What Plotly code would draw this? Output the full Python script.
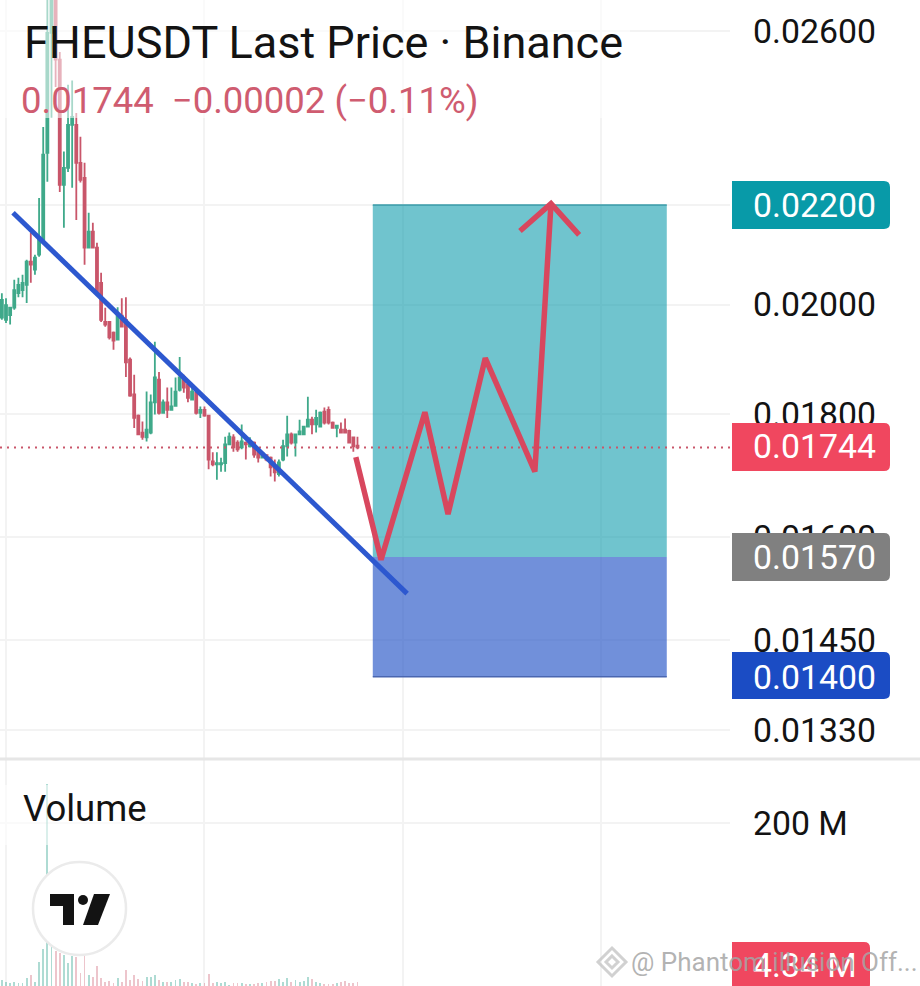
#!/bin/python
import numpy as np
import plotly.graph_objects as go

W = 920
H = 986

# candles, prices in 1/100000 USDT
bars = list(range(-1, 86))
opens = [1975,1971,1980,1994,2022,2028,2038,2084,2068,2098,2128,2313,2595,2700,2529,2243,2280,2376,2376,2291,2258,2112,2145,2112,2042,1967,1967,1947,1934,1979,1971,1897,1835,1798,1769,1761,1769,1821,1861,1803,1821,1808,1815,1843,1866,1852,1826,1838,1803,1808,1798,1721,1716,1716,1718,1749,1761,1752,1744,1752,1746,1752,1736,1727,1731,1727,1713,1700,1724,1746,1766,1752,1766,1766,1779,1791,1783,1779,1805,1808,1786,1777,1774,1774,1772,1761,1747]
highs = [2022,2012,1995,2048,2052,2058,2088,2143,2098,2215,2371,2750,2780,2780,2548,2316,2469,2479,2403,2349,2291,2184,2163,2122,2062,1994,1967,1949,1995,2012,2014,1901,1870,1800,1788,1840,1835,1930,1875,1826,1847,1847,1865,1902,1870,1858,1849,1840,1814,1814,1798,1736,1736,1727,1762,1769,1766,1756,1783,1754,1761,1754,1741,1736,1732,1729,1724,1724,1757,1798,1769,1766,1791,1779,1831,1796,1808,1805,1812,1814,1788,1781,1786,1793,1774,1762,1762]
lows = [1971,1965,1962,1990,2014,2014,2003,2042,2058,2094,2128,2250,2392,2464,2228,2153,2271,2237,2169,2248,2078,2112,2112,2018,1967,1958,1934,1915,1934,1958,1866,1831,1777,1766,1757,1754,1766,1800,1800,1803,1794,1808,1814,1840,1838,1821,1826,1800,1794,1796,1708,1713,1691,1704,1704,1749,1737,1737,1741,1724,1744,1727,1719,1727,1721,1696,1688,1696,1721,1729,1749,1729,1766,1766,1779,1766,1769,1779,1783,1783,1777,1761,1769,1769,1751,1737,1741]
closes = [2009,1999,1994,2028,2038,2042,2084,2078,2092,2128,2309,2595,2700,2529,2243,2280,2376,2394,2291,2254,2112,2145,2112,2022,1971,1962,1938,1932,1979,1958,1892,1833,1794,1766,1762,1774,1821,1865,1803,1821,1808,1814,1840,1865,1847,1829,1840,1803,1808,1798,1724,1716,1718,1718,1749,1762,1744,1741,1754,1749,1754,1732,1727,1734,1724,1711,1703,1719,1746,1766,1752,1766,1771,1779,1791,1783,1794,1803,1786,1786,1777,1781,1769,1769,1752,1746,1744]
volumes = [7.4,5.3,3.3,5.3,4.1,3.3,9.4,13.5,5.3,29.9,45,248,48,43,40,38,28,37,36,16,37,13.5,10.6,24,10,5.3,6.1,3.3,9.4,5.3,20,7.4,13.5,8.2,6.1,11.5,11.5,13.5,7.4,5.3,5.3,5.3,7.4,8.2,5.3,5.3,3.3,2.5,3.3,3.3,14.7,3.3,5.3,3.3,5.3,1.2,3.3,3.3,3.3,2.5,2.5,2.5,3.3,3.3,5.3,6.5,6.5,8.2,5.3,9.4,5.3,7.4,5.3,6.1,10.6,8.2,5.3,3.3,2.5,2.5,2.5,3.3,5.3,6.1,4.1,3.3,4.34]

# drawings on the chart, x in bars, y in USDT
trend_x = [1.7, 97.0]
trend_y = [0.02184, 0.01516]
path_x = [84.6, 90.7, 101.3, 106.9, 115.9, 127.9, 131.8]
path_y = [0.01728, 0.01566, 0.01804, 0.01636, 0.01900, 0.01704, 0.02203]
head_x = [124.3, 131.8, 138.6]
head_y = [0.02146, 0.02203, 0.02138]
pos_x = [88.7, 159.8]
target_price = 0.022
entry_price = 0.0157
stop_price = 0.014
last_price = 0.01744

price_ticks = [0.026, 0.022, 0.020, 0.018, 0.016, 0.0145, 0.0133]
price_labels = ["0.02600", "0.02200", "0.02000", "0.01800", "0.01600", "0.01450", "0.01330"]
time_ticks = [0, 48, 96, 144]
volume_ticks = [200]
volume_labels = ["200 M"]
badge_texts = ["0.02200", "0.01744", "0.01570", "0.01400", "4.34 M"]
badge_colors = ["#089AA8", "#F0475F", "#808080", "#1B4CC4", "#F0475F"]

GREEN = "#3FA98A"
RED = "#C9566A"
GRID = "#F3F3F3"
FONT = "Roboto"

def px(x):
    return x / W

def py(y):
    return 1 - y / H

# pixel position helper, only for the chrome around the plot (badges, logo)
def poly(points, fill, opacity=1):
    d = "M " + " L ".join("%.5f,%.5f" % (px(a), py(b)) for a, b in points) + " Z"
    return dict(type="path", path=d, xref="paper", yref="paper", fillcolor=fill,
                line=dict(width=0), layer="above", opacity=opacity)

def badge(y0, y1, color, x1=890):
    r = 6
    a, b = py(y0), py(y1)
    d = "M %.5f,%.5f L %.5f,%.5f Q %.5f,%.5f %.5f,%.5f L %.5f,%.5f Q %.5f,%.5f %.5f,%.5f L %.5f,%.5f Z" % (
        px(732), a, px(x1 - r), a, px(x1), a, px(x1), py(y0 + r), px(x1), py(y1 - r),
        px(x1), b, px(x1 - r), b, px(732), b)
    return dict(type="path", path=d, xref="paper", yref="paper", fillcolor=color,
                line=dict(width=0), layer="above")

fig = go.Figure()

scale = np.array(1e-5)
fig.add_trace(go.Candlestick(
    x=bars, open=np.array(opens) * scale, high=np.array(highs) * scale,
    low=np.array(lows) * scale, close=np.array(closes) * scale,
    increasing=dict(line=dict(color=GREEN, width=1.8), fillcolor=GREEN),
    decreasing=dict(line=dict(color=RED, width=1.8), fillcolor=RED),
    whiskerwidth=0, xaxis="x", yaxis="y", hoverinfo="skip"))

fig.add_trace(go.Bar(
    x=bars, y=volumes, width=0.44, xaxis="x2", yaxis="y2", hoverinfo="skip",
    marker=dict(color=["rgba(63,169,150,0.42)" if c >= o else "rgba(201,86,106,0.34)"
                       for o, c in zip(opens, closes)], line=dict(width=0))))

# long position box
box_x = [pos_x[0], pos_x[1], pos_x[1], pos_x[0], pos_x[0]]
fig.add_trace(go.Scatter(
    x=box_x, y=[target_price, target_price, entry_price, entry_price, target_price],
    fill="toself", fillcolor="rgba(8,153,170,0.58)", mode="none", hoverinfo="skip"))
fig.add_trace(go.Scatter(
    x=box_x, y=[entry_price, entry_price, stop_price, stop_price, entry_price],
    fill="toself", fillcolor="rgba(26,76,196,0.62)", mode="none", hoverinfo="skip"))
fig.add_trace(go.Scatter(x=pos_x, y=[target_price, target_price], mode="lines",
                         line=dict(color="#3A9BA8", width=1.5), hoverinfo="skip"))
fig.add_trace(go.Scatter(x=pos_x, y=[stop_price, stop_price], mode="lines",
                         line=dict(color="#4A66B0", width=1.5), hoverinfo="skip"))

x_range = [-1.451, 175.09]

# last price line
fig.add_trace(go.Scatter(x=x_range, y=[last_price, last_price], mode="lines",
                         line=dict(color=RED, width=2, dash="2px 5px"), hoverinfo="skip"))

fig.add_trace(go.Scatter(x=trend_x, y=trend_y, mode="lines",
                         line=dict(color="#2D58CF", width=5), hoverinfo="skip"))
fig.add_trace(go.Scatter(x=path_x, y=path_y, mode="lines",
                         line=dict(color="#D8475E", width=5.5), hoverinfo="skip"))
fig.add_trace(go.Scatter(x=head_x, y=head_y, mode="lines",
                         line=dict(color="#D8475E", width=5.5), hoverinfo="skip"))

shapes = [
    # translucent legend backing
    dict(type="rect", xref="paper", yref="paper", x0=0, x1=px(630), y0=py(118), y1=1,
         fillcolor="white", opacity=0.55, line=dict(width=0), layer="above"),
    dict(type="rect", xref="paper", yref="paper", x0=0, x1=px(150), y0=py(845), y1=py(785),
         fillcolor="white", opacity=0.55, line=dict(width=0), layer="above"),
    # pane separator
    dict(type="line", xref="paper", yref="paper", x0=0, x1=1, y0=py(759), y1=py(759),
         line=dict(color="#E6E6E6", width=3), layer="above"),
    # tradingview logo
    dict(type="circle", xref="paper", yref="paper", x0=px(33), x1=px(126), y0=py(955), y1=py(862),
         fillcolor="white", line=dict(color="#EBEBEB", width=2.5), layer="above"),
    poly([(50, 894), (74, 894), (74, 925), (63, 925), (63, 906), (50, 906)], "#131313"),
    poly([(94, 894), (110, 894), (98, 925), (83, 925)], "#131313"),
    dict(type="circle", xref="paper", yref="paper", x0=px(78), x1=px(88), y0=py(905), y1=py(895),
         fillcolor="#131313", line=dict(width=0), layer="above"),
    # price badges
    badge(181, 229, badge_colors[0]),
    badge(423, 471, badge_colors[1]),
    badge(533, 581, badge_colors[2]),
    badge(652, 699, badge_colors[3]),
    badge(942, 990, badge_colors[4], x1=870),
]

notes = [
    dict(text="FHEUSDT Last Price · Binance", x=px(22), y=py(42), font=dict(size=45, color="#131313")),
    dict(text="0.01744\u00a0\u00a0−0.00002 (−0.11%)", x=px(19), y=py(101), font=dict(size=36.5, color="#CF5C70")),
    dict(text="Volume", x=px(21), y=py(808), font=dict(size=36.5, color="#131313")),
]
for text, yy in zip(badge_texts, [205, 447, 557, 677, 965]):
    notes.append(dict(text=text, x=px(751), y=py(yy), font=dict(size=33.8, color="white")))
notes.append(dict(text="@ Phantom illusion Off...", x=px(629), y=py(962),
                  font=dict(size=26, color="rgba(165,165,165,0.85)")))
for n in notes:
    n.update(xref="paper", yref="paper", xanchor="left", yanchor="middle", showarrow=False)
    n["font"]["family"] = FONT

# watermark diamonds
for r in (14, 6):
    shapes.append(dict(type="path", xref="paper", yref="paper", layer="above",
                       path="M %.5f,%.5f L %.5f,%.5f L %.5f,%.5f L %.5f,%.5f Z" % (
                           px(612), py(962 - r), px(612 + r), py(962), px(612), py(962 + r), px(612 - r), py(962)),
                       fillcolor="rgba(255,255,255,0)", line=dict(color="rgba(190,190,190,0.7)", width=3)))

axis_font = dict(family=FONT, size=33.8, color="#131313")
fig.update_layout(
    width=W, height=H, autosize=False,
    margin=dict(l=0, r=0, t=0, b=0),
    paper_bgcolor="white", plot_bgcolor="white",
    showlegend=False, shapes=shapes, annotations=notes, bargap=0,
    xaxis=dict(domain=[0, px(730)], range=x_range, tickvals=time_ticks, showticklabels=False,
               gridcolor=GRID, gridwidth=1.5, zeroline=False, showline=False, ticks="",
               rangeslider=dict(visible=False), anchor="y"),
    yaxis=dict(domain=[py(758), 1], type="log", range=[np.log10(0.01295), np.log10(0.02678)],
               side="right", anchor="x", tickvals=price_ticks, ticktext=price_labels,
               tickfont=axis_font, ticklabelstandoff=22, ticks="",
               gridcolor=GRID, gridwidth=1.5, zeroline=False, showline=False),
    xaxis2=dict(domain=[0, px(730)], range=x_range, tickvals=time_ticks, showticklabels=False,
                gridcolor=GRID, gridwidth=1.5, zeroline=False, showline=False, ticks="", anchor="y2"),
    yaxis2=dict(domain=[0, py(760)], range=[0, 277], side="right", anchor="x2",
                tickvals=volume_ticks, ticktext=volume_labels, tickfont=axis_font,
                ticklabelstandoff=22, ticks="", gridcolor=GRID, gridwidth=1.5,
                zeroline=False, showline=False),
)

fig.write_html("out.html", config=dict(displayModeBar=False),
               post_script="document.body.style.margin='0';document.body.style.overflow='hidden';")
